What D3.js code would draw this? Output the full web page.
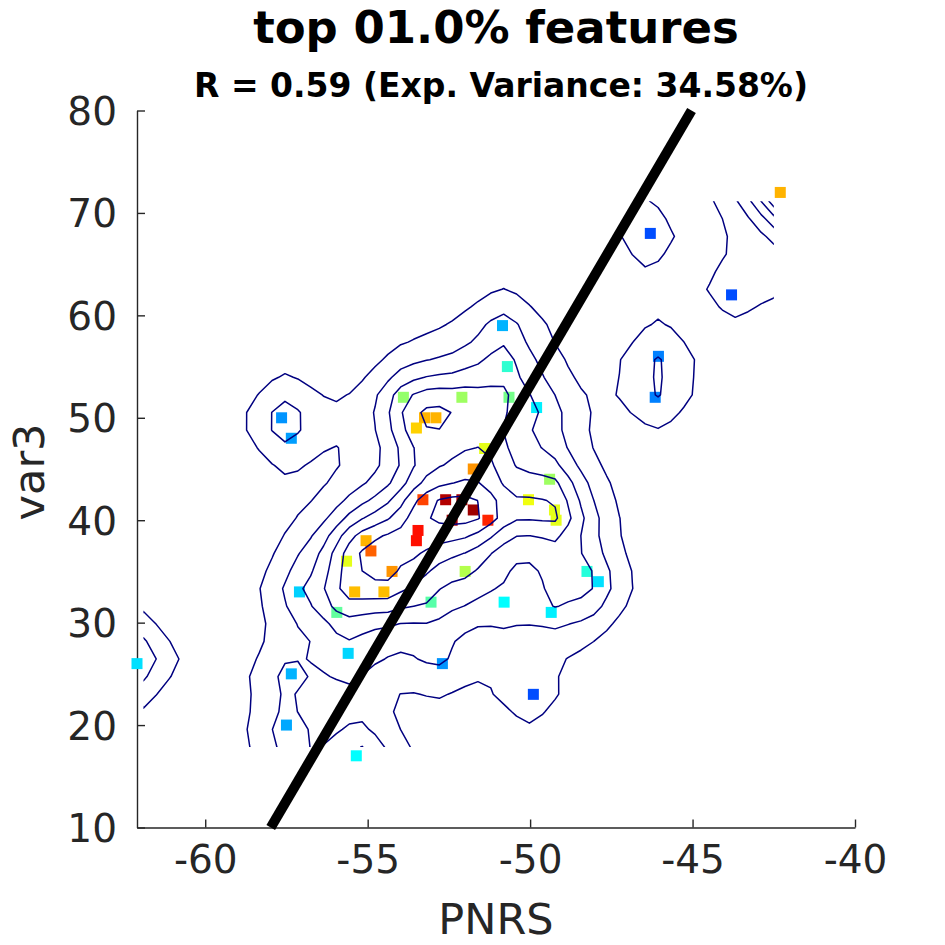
<!DOCTYPE html>
<html><head><meta charset="utf-8">
<script src="https://cdn.jsdelivr.net/npm/d3@7"></script>
<style>body{margin:0;background:#fff} svg{display:block}</style>
</head><body>
<svg id="chart" width="945" height="945"></svg>
<script>
// ---------- data ----------
const xValues = [-42.3,-46.3,-43.8,-50.85,-46.05,-46.15,-50.7,-50.65,-52.1,-53.9,-49.8,-57.65,-57.35,-53.25,-52.9,-53.5,-51.4,-51.75,-53.3,-52.6,-52.1,-51.75,-51.3,-52.4,-53.45,-53.5,-55.05,-54.9,-55.65,-54.25,-52.0,-57.1,-55.4,-54.5,-55.95,-53.05,-50.8,-49.35,-48.25,-47.9,-62.1,-55.6,-57.35,-52.7,-49.9,-57.5,-55.35,-49.4,-50.05,-49.25,-49.2];
const yValues = [72,68,62,59,56,52,55,52,52,52,51,50,48,50,50,49,47,45,42,42,42,41,40,40,39,38,38,37,36,35,35,33,33,33,31,32,32,31,35,34,26,27,25,26,23,20,17,44,42,41,40];
const colorValues = [0.70,0.20,0.20,0.30,0.25,0.25,0.42,0.49,0.53,0.52,0.36,0.27,0.28,0.70,0.70,0.67,0.60,0.73,0.81,0.95,0.96,0.97,0.84,0.96,0.86,0.86,0.70,0.78,0.60,0.73,0.55,0.33,0.69,0.69,0.47,0.46,0.375,0.36,0.41,0.345,0.345,0.335,0.30,0.27,0.20,0.29,0.375,0.53,0.61,0.60,0.60];
const xTicks = [-60,-55,-50,-45,-40];
const yTicks = [10,20,30,40,50,60,70,80];
const contourLevels = [0.0005,0.001,0.0015,0.002,0.0025,0.003,0.0035];
const xDomain = [-62.1,-40];
const yDomain = [10,80];
const fitSlope = 5.405;
const fitIntercept = 323.4;
const titleText = "top 01.0% features";
const subtitleText = "R = 0.59 (Exp. Variance: 34.58%)";
const xLabelText = "PNRS";
const yLabelText = "var3";
const nBinsX = 50;
const smoothLambda = 20;

// ---------- layout ----------
const L = 137, R = 855, T = 110.5, B = 827.5;
const svg = d3.select("#chart");
const font = "'DejaVu Sans', sans-serif";
const x = d3.scaleLinear().domain(xDomain).range([L, R]);
const y = d3.scaleLinear().domain(yDomain).range([B, T]);

const jet = t => {
  const c = v => Math.max(0, Math.min(1, v));
  const r = c(1.5 - Math.abs(4*t - 3)), g = c(1.5 - Math.abs(4*t - 2)), b = c(1.5 - Math.abs(4*t - 1));
  return d3.rgb(r*255, g*255, b*255).formatHex();
};
const color = d3.scaleSequential(jet).domain([0,1]);

// ---------- axes ----------
const axisColor = "#262626";
const gx = svg.append("g").attr("transform", `translate(0,${B})`)
  .call(d3.axisBottom(x).tickValues(xTicks).tickSizeInner(-8).tickSizeOuter(0).tickPadding(18).tickFormat(d => String(d)));
const gy = svg.append("g").attr("transform", `translate(${L},0)`)
  .call(d3.axisLeft(y).tickValues(yTicks).tickSizeInner(-8).tickSizeOuter(0).tickPadding(20).tickFormat(d => String(d)));
[gx, gy].forEach(g => {
  g.select(".domain").attr("stroke", axisColor).attr("stroke-width", 1.4);
  g.selectAll(".tick line").attr("stroke", axisColor).attr("stroke-width", 1.4);
  g.selectAll(".tick text").attr("fill", axisColor).style("font-family", font).style("font-size", "39px");
});
gx.selectAll(".tick text").attr("dy", "0.71em");
gy.selectAll(".tick text").attr("dy", "0.36em");

// ---------- density (2D histogram + penalized smoothing) ----------
const n = xValues.length;
const xmin = d3.min(xValues), xmax = d3.max(xValues);
const ymin = d3.min(yValues), ymax = d3.max(yValues);
const nx = nBinsX, ny = new Set(yValues).size;
const wx = (xmax - xmin) / nx, wy = (ymax - ymin) / ny;
const H = Array.from({length: ny}, () => new Array(nx).fill(0));
const binOf = (v, lo, w, m) => Math.max(0, Math.min(m - 1, Math.floor((v - lo) / w + 1e-9)));
for (let i = 0; i < n; i++) H[binOf(yValues[i], ymin, wy, ny)][binOf(xValues[i], xmin, wx, nx)] += 1 / n;
function smoothSystem(m, lam) {
  const A = Array.from({length: m}, (_, i) => { const r = new Array(m).fill(0); r[i] = 1; return r; });
  for (let i = 0; i < m - 1; i++) {
    const idx = [i, i+1], v = [-1, 1];
    for (let a = 0; a < 2; a++) for (let b = 0; b < 2; b++) A[idx[a]][idx[b]] += 2*lam*v[a]*v[b];
  }
  for (let i = 0; i < m - 2; i++) {
    const idx = [i, i+1, i+2], v = [1, -2, 1];
    for (let a = 0; a < 3; a++) for (let b = 0; b < 3; b++) A[idx[a]][idx[b]] += lam*lam*v[a]*v[b];
  }
  return A;
}
function solve(A0, B0) {
  const m = A0.length, k = B0[0].length;
  const A = A0.map(r => r.slice()), Bm = B0.map(r => r.slice());
  for (let c = 0; c < m; c++) {
    let p = c; for (let r = c+1; r < m; r++) if (Math.abs(A[r][c]) > Math.abs(A[p][c])) p = r;
    [A[c], A[p]] = [A[p], A[c]]; [Bm[c], Bm[p]] = [Bm[p], Bm[c]];
    for (let r = c+1; r < m; r++) {
      const f = A[r][c] / A[c][c]; if (!f) continue;
      for (let j = c; j < m; j++) A[r][j] -= f*A[c][j];
      for (let j = 0; j < k; j++) Bm[r][j] -= f*Bm[c][j];
    }
  }
  const X = Array.from({length: m}, () => new Array(k).fill(0));
  for (let r = m-1; r >= 0; r--) for (let j = 0; j < k; j++) {
    let s = Bm[r][j]; for (let q = r+1; q < m; q++) s -= A[r][q]*X[q][j];
    X[r][j] = s / A[r][r];
  }
  return X;
}
const transpose = M => M[0].map((_, j) => M.map(r => r[j]));
const G = solve(smoothSystem(ny, ny / smoothLambda), H);
const F = transpose(solve(smoothSystem(nx, nx / smoothLambda), transpose(G)));
const values = new Array(nx*ny);
for (let j = 0; j < ny; j++) for (let i = 0; i < nx; i++) values[j*nx + i] = F[j][i];

// ---------- points ----------
const pts = d3.range(n).map(i => ({x: xValues[i], y: yValues[i], c: colorValues[i]}));
const ms = 11;
svg.append("g").selectAll("rect").data(pts).join("rect")
  .attr("x", d => x(d.x) - ms/2).attr("y", d => y(d.y) - ms/2)
  .attr("width", ms).attr("height", ms)
  .attr("fill", d => color(d.c));

// ---------- contours ----------
svg.append("clipPath").attr("id", "gridclip").append("rect")
  .attr("x", x(xmin + wx/2)).attr("y", y(ymax - wy/2))
  .attr("width", x(xmax - wx/2) - x(xmin + wx/2))
  .attr("height", y(ymin + wy/2) - y(ymax - wy/2));
const proj = d3.geoTransform({point(px, py) { this.stream.point(x(xmin + px*wx), y(ymin + py*wy)); }});
const path = d3.geoPath(proj);
const contours = d3.contours().size([nx, ny]).thresholds(contourLevels)(values);
svg.append("g").attr("clip-path", "url(#gridclip)")
  .selectAll("path").data(contours).join("path")
  .attr("d", path).attr("fill", "none").attr("stroke", "#000080")
  .attr("stroke-width", 1.5).attr("stroke-linejoin", "round");

// ---------- fit line ----------
svg.append("line")
  .attr("x1", x((yDomain[0] - fitIntercept) / fitSlope)).attr("y1", y(yDomain[0]))
  .attr("x2", x((yDomain[1] - fitIntercept) / fitSlope)).attr("y2", y(yDomain[1]))
  .attr("stroke", "#000").attr("stroke-width", 10);

// ---------- texts ----------
const cx = (L + R) / 2;
svg.append("text").attr("x", cx).attr("y", 43).attr("text-anchor", "middle")
  .style("font-family", font).style("font-weight", "bold").style("font-size", "45px").attr("fill", "#000").text(titleText);
svg.append("text").attr("x", cx + 5).attr("y", 97).attr("text-anchor", "middle")
  .style("font-family", font).style("font-weight", "bold").style("font-size", "33px").attr("fill", "#000").text(subtitleText);
svg.append("text").attr("x", cx).attr("y", 934).attr("text-anchor", "middle")
  .style("font-family", font).style("font-size", "43px").attr("fill", axisColor).text(xLabelText);
svg.append("text").attr("transform", `translate(44,472) rotate(-90)`).attr("text-anchor", "middle")
  .style("font-family", font).style("font-size", "43px").attr("fill", axisColor).text(yLabelText);
</script>
</body></html>
